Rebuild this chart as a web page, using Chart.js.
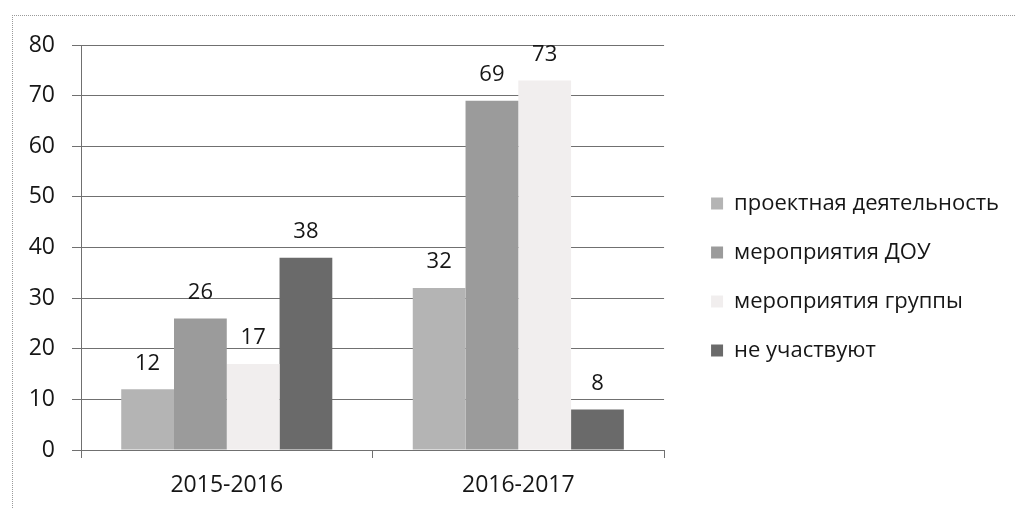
<!DOCTYPE html>
<html>
<head>
<meta charset="utf-8">
<script src="https://cdn.jsdelivr.net/npm/chart.js@4/dist/chart.umd.min.js"></script>
<style>
  html, body { margin: 0; padding: 0; background: #fff; }
  #wrap { position: relative; width: 1016px; height: 509px; overflow: hidden; }
  #frame { position: absolute; left: 12px; top: 15px; width: 1010px; height: 500px;
           border-top: 1px dotted #9a9a9a; border-left: 1px dotted #9a9a9a; pointer-events: none; }
  canvas { position: absolute; left: 0; top: 0; }
</style>
</head>
<body>
<div id="wrap">
  <canvas id="c" width="1016" height="509"></canvas>
  <div id="frame"></div>
</div>
<script>
const categories = ['2015-2016', '2016-2017'];
const seriesNames = ['проектная деятельность', 'мероприятия ДОУ', 'мероприятия группы', 'не участвуют'];
const projectValues = [12, 32];
const douValues = [26, 69];
const groupValues = [17, 73];
const notParticipatingValues = [38, 8];
const seriesColors = ['#b4b4b4', '#9b9b9b', '#f1eeee', '#6a6a6a'];
const yMin = 0, yMax = 80, yStep = 10;

const FONT = "'Open Sans', 'Liberation Sans', sans-serif";
const TEXT = '#161616';

const valueLabels = {
  id: 'valueLabels',
  afterDatasetsDraw(chart) {
    const ctx = chart.ctx;
    ctx.save();
    ctx.font = "22px " + FONT;
    ctx.fillStyle = TEXT;
    ctx.textAlign = 'center';
    ctx.textBaseline = 'middle';
    chart.data.datasets.forEach((ds, i) => {
      const meta = chart.getDatasetMeta(i);
      meta.data.forEach((el, j) => {
        ctx.fillText(String(ds.data[j]), el.x, el.y - 26);
      });
    });
    ctx.restore();
  }
};

const allValues = [projectValues, douValues, groupValues, notParticipatingValues];

new Chart(document.getElementById('c'), {
  type: 'bar',
  data: {
    labels: categories,
    datasets: seriesNames.map((name, i) => ({
      label: name,
      data: allValues[i],
      backgroundColor: seriesColors[i],
      borderWidth: 0,
      categoryPercentage: 0.724,
      barPercentage: 1.0
    }))
  },
  options: {
    responsive: false,
    devicePixelRatio: 1,
    animation: false,
    layout: { padding: { left: 15, top: 45, right: 7, bottom: 0 } },
    plugins: {
      tooltip: { enabled: false },
      legend: {
        position: 'right',
        align: 'center',
        maxWidth: 500,
        labels: {
          boxWidth: 12,
          boxHeight: 12,
          padding: 27,
          color: TEXT,
          font: { family: FONT, size: 22 }
        }
      }
    },
    scales: {
      x: {
        grid: { display: true, drawOnChartArea: false, drawTicks: true, tickLength: 8, color: '#707070', offset: true },
        border: { display: true, color: '#707070', width: 1 },
        ticks: { color: TEXT, font: { family: FONT, size: 23 }, padding: 14 },
        afterFit(s) { s.height = 59; }
      },
      y: {
        min: yMin, max: yMax,
        ticks: { stepSize: yStep, color: TEXT, font: { family: FONT, size: 23 }, padding: 17 },
        grid: { color: '#707070', lineWidth: 1, tickLength: 9 },
        border: { display: true, color: '#707070', width: 1 },
        afterFit(s) { s.width = 66; }
      },
      spacer: {
        position: 'right',
        display: true,
        grid: { display: false },
        border: { display: false },
        ticks: { display: false },
        afterFit(s) { s.width = 20; }
      }
    }
  },
  plugins: [valueLabels]
});
</script>
</body>
</html>
